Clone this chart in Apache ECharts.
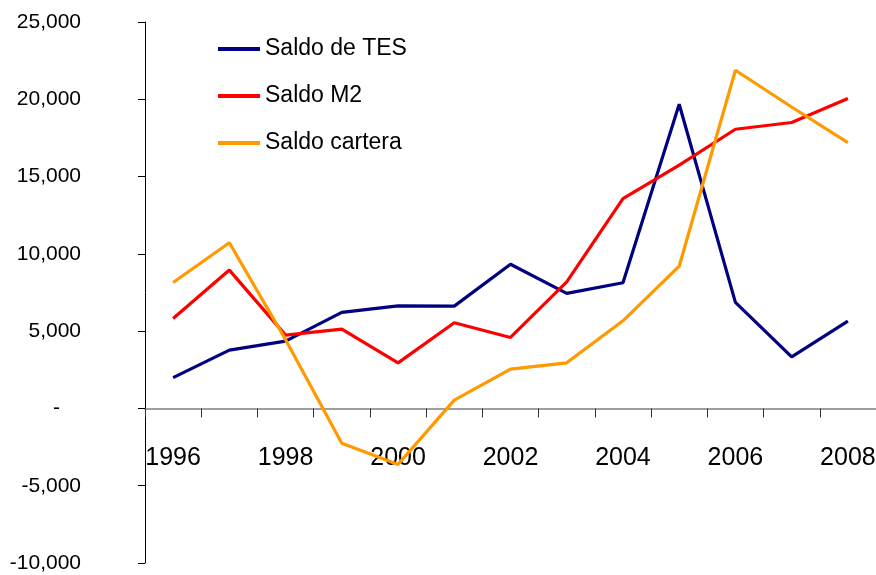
<!DOCTYPE html>
<html>
<head>
<meta charset="utf-8">
<script src="https://cdn.jsdelivr.net/npm/echarts@6/dist/echarts.min.js"></script>
<style>
  html, body { margin: 0; padding: 0; background: #fff; }
  #chart { width: 876px; height: 575px; }
</style>
</head>
<body>
<div id="chart"></div>
<script>
// años
const years = ['1996', '1997', '1998', '1999', '2000', '2001', '2002', '2003', '2004', '2005', '2006', '2007', '2008'];
// series
const saldoTES = [1990, 3770, 4350, 6210, 6640, 6620, 9330, 7440, 8130, 19680, 6860, 3340, 5650];
const saldoM2 = [5820, 8950, 4740, 5130, 2950, 5540, 4590, 8190, 13580, 15740, 18060, 18500, 20050];
const saldoCartera = [8150, 10720, 4450, -2250, -3620, 540, 2540, 2950, 5670, 9200, 21880, 19500, 17200];

const seriesNames = ['Saldo de TES', 'Saldo M2', 'Saldo cartera'];
const colors = ['#000080', '#ff0000', '#ff9900'];

function fmt(v) {
  if (v === 0) return '{z|-}';
  return v.toString().replace(/\B(?=(\d{3})+(?!\d))/g, ',');
}

// zero line of the main grid (top 22, height 541, range -10000..25000)
const zeroBottom = 575 - (22 + 541 * 25 / 35);

const chart = echarts.init(document.getElementById('chart'));
chart.setOption({
  animation: false,
  color: colors,
  grid: [
    { left: 145, right: 0, top: 22, bottom: 12, outerBoundsMode: 'none', containLabel: false },
    // second grid only for the category axis sitting on zero
    { left: 145, right: 0, top: 22, bottom: zeroBottom, outerBoundsMode: 'none', containLabel: false }
  ],
  legend: {
    orient: 'vertical',
    left: 218,
    top: 37,
    padding: 0,
    icon: 'rect',
    itemWidth: 42,
    itemHeight: 4,
    itemGap: 23,
    textStyle: { fontFamily: 'Liberation Sans', fontSize: 23, lineHeight: 24, color: '#000' },
    data: seriesNames
  },
  xAxis: [
    {
      type: 'category',
      gridIndex: 0,
      data: years,
      boundaryGap: true,
      show: false
    },
    {
      type: 'category',
      gridIndex: 1,
      data: years,
      boundaryGap: true,
      position: 'bottom',
      axisLine: { onZero: false, lineStyle: { color: '#808080', width: 1.5 } },
      axisTick: { show: true, interval: 0, length: 9, lineStyle: { color: '#333' } },
      axisLabel: {
        interval: 1,
        margin: 37,
        fontFamily: 'Liberation Sans',
        fontSize: 25,
        color: '#000'
      },
      splitLine: { show: false }
    }
  ],
  yAxis: [
    {
      type: 'value',
      gridIndex: 0,
      min: -10000,
      max: 25000,
      interval: 5000,
      axisLine: { show: true, onZero: false, lineStyle: { color: '#000', width: 1 } },
      axisTick: { show: true, length: 7, lineStyle: { color: '#000' } },
      axisLabel: {
        margin: 64,
        fontFamily: 'Liberation Sans',
        fontSize: 21,
        color: '#000',
        formatter: fmt,
        rich: { z: { fontFamily: 'Liberation Sans', fontSize: 21, color: '#000', padding: [0, 21, 0, 0] } }
      },
      splitLine: { show: false }
    },
    { type: 'value', gridIndex: 1, min: 0, max: 1, show: false }
  ],
  series: [
    { name: seriesNames[0], type: 'line', data: saldoTES, showSymbol: false, lineStyle: { width: 3.2 }, z: 3 },
    { name: seriesNames[1], type: 'line', data: saldoM2, showSymbol: false, lineStyle: { width: 3.2 }, z: 4 },
    { name: seriesNames[2], type: 'line', data: saldoCartera, showSymbol: false, lineStyle: { width: 3.2 }, z: 5 }
  ]
});
</script>
</body>
</html>
